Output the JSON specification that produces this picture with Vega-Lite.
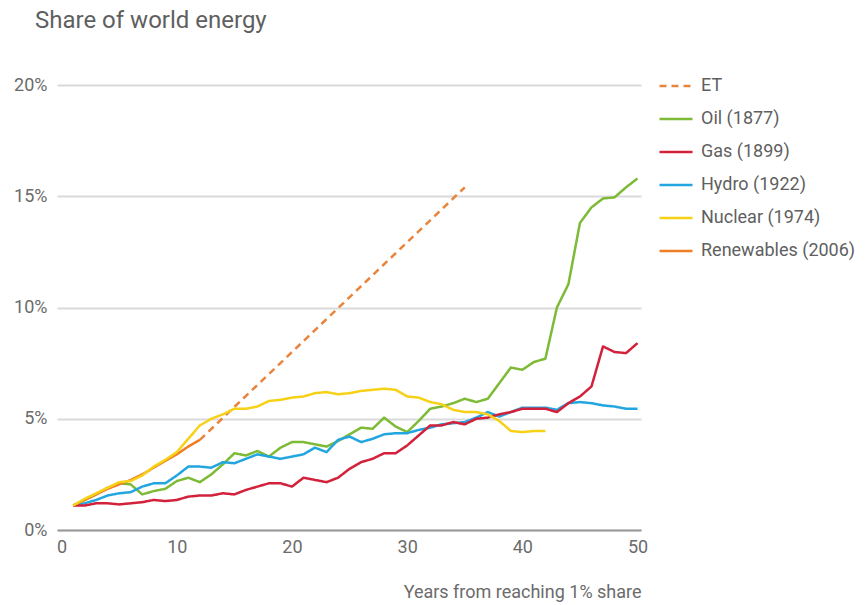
{
  "$schema": "https://vega.github.io/schema/vega-lite/v6.json",
  "width": 584,
  "height": 445,
  "autosize": {"type": "none"},
  "padding": {"left": 57, "top": 85, "right": 225, "bottom": 75},
  "background": "white",
  "title": {
    "text": "Share of world energy",
    "anchor": "start",
    "frame": "group",
    "dx": -22,
    "offset": 35,
    "fontSize": 24,
    "font": "Roboto",
    "fontWeight": "normal",
    "color": "#5f5f5f"
  },
  "config": {
    "view": {"stroke": null},
    "font": "Roboto"
  },
  "datasets": {
    "energy": [
      {"series": "ET", "year": 12, "share": 4.05},
      {"series": "ET", "year": 35, "share": 15.4},
      {"series": "Oil (1877)", "year": 1, "share": 1.1},
      {"series": "Oil (1877)", "year": 2, "share": 1.35},
      {"series": "Oil (1877)", "year": 3, "share": 1.6},
      {"series": "Oil (1877)", "year": 4, "share": 1.9},
      {"series": "Oil (1877)", "year": 5, "share": 2.1},
      {"series": "Oil (1877)", "year": 6, "share": 2.05},
      {"series": "Oil (1877)", "year": 7, "share": 1.6},
      {"series": "Oil (1877)", "year": 8, "share": 1.75},
      {"series": "Oil (1877)", "year": 9, "share": 1.85},
      {"series": "Oil (1877)", "year": 10, "share": 2.2},
      {"series": "Oil (1877)", "year": 11, "share": 2.35},
      {"series": "Oil (1877)", "year": 12, "share": 2.15},
      {"series": "Oil (1877)", "year": 13, "share": 2.5},
      {"series": "Oil (1877)", "year": 14, "share": 2.95},
      {"series": "Oil (1877)", "year": 15, "share": 3.45},
      {"series": "Oil (1877)", "year": 16, "share": 3.35},
      {"series": "Oil (1877)", "year": 17, "share": 3.55},
      {"series": "Oil (1877)", "year": 18, "share": 3.3},
      {"series": "Oil (1877)", "year": 19, "share": 3.7},
      {"series": "Oil (1877)", "year": 20, "share": 3.95},
      {"series": "Oil (1877)", "year": 21, "share": 3.95},
      {"series": "Oil (1877)", "year": 22, "share": 3.85},
      {"series": "Oil (1877)", "year": 23, "share": 3.75},
      {"series": "Oil (1877)", "year": 24, "share": 4.0},
      {"series": "Oil (1877)", "year": 25, "share": 4.3},
      {"series": "Oil (1877)", "year": 26, "share": 4.6},
      {"series": "Oil (1877)", "year": 27, "share": 4.55},
      {"series": "Oil (1877)", "year": 28, "share": 5.05},
      {"series": "Oil (1877)", "year": 29, "share": 4.65},
      {"series": "Oil (1877)", "year": 30, "share": 4.4},
      {"series": "Oil (1877)", "year": 31, "share": 4.9},
      {"series": "Oil (1877)", "year": 32, "share": 5.45},
      {"series": "Oil (1877)", "year": 33, "share": 5.55},
      {"series": "Oil (1877)", "year": 34, "share": 5.7},
      {"series": "Oil (1877)", "year": 35, "share": 5.9},
      {"series": "Oil (1877)", "year": 36, "share": 5.75},
      {"series": "Oil (1877)", "year": 37, "share": 5.9},
      {"series": "Oil (1877)", "year": 38, "share": 6.6},
      {"series": "Oil (1877)", "year": 39, "share": 7.3},
      {"series": "Oil (1877)", "year": 40, "share": 7.2},
      {"series": "Oil (1877)", "year": 41, "share": 7.55},
      {"series": "Oil (1877)", "year": 42, "share": 7.7},
      {"series": "Oil (1877)", "year": 43, "share": 10.0},
      {"series": "Oil (1877)", "year": 44, "share": 11.05},
      {"series": "Oil (1877)", "year": 45, "share": 13.8},
      {"series": "Oil (1877)", "year": 46, "share": 14.5},
      {"series": "Oil (1877)", "year": 47, "share": 14.9},
      {"series": "Oil (1877)", "year": 48, "share": 14.95},
      {"series": "Oil (1877)", "year": 49, "share": 15.4},
      {"series": "Oil (1877)", "year": 50, "share": 15.8},
      {"series": "Hydro (1922)", "year": 1, "share": 1.1},
      {"series": "Hydro (1922)", "year": 2, "share": 1.2},
      {"series": "Hydro (1922)", "year": 3, "share": 1.35},
      {"series": "Hydro (1922)", "year": 4, "share": 1.55},
      {"series": "Hydro (1922)", "year": 5, "share": 1.65},
      {"series": "Hydro (1922)", "year": 6, "share": 1.7},
      {"series": "Hydro (1922)", "year": 7, "share": 1.95},
      {"series": "Hydro (1922)", "year": 8, "share": 2.1},
      {"series": "Hydro (1922)", "year": 9, "share": 2.1},
      {"series": "Hydro (1922)", "year": 10, "share": 2.45},
      {"series": "Hydro (1922)", "year": 11, "share": 2.85},
      {"series": "Hydro (1922)", "year": 12, "share": 2.85},
      {"series": "Hydro (1922)", "year": 13, "share": 2.8},
      {"series": "Hydro (1922)", "year": 14, "share": 3.05},
      {"series": "Hydro (1922)", "year": 15, "share": 3.0},
      {"series": "Hydro (1922)", "year": 16, "share": 3.2},
      {"series": "Hydro (1922)", "year": 17, "share": 3.4},
      {"series": "Hydro (1922)", "year": 18, "share": 3.3},
      {"series": "Hydro (1922)", "year": 19, "share": 3.2},
      {"series": "Hydro (1922)", "year": 20, "share": 3.3},
      {"series": "Hydro (1922)", "year": 21, "share": 3.4},
      {"series": "Hydro (1922)", "year": 22, "share": 3.7},
      {"series": "Hydro (1922)", "year": 23, "share": 3.5},
      {"series": "Hydro (1922)", "year": 24, "share": 4.05},
      {"series": "Hydro (1922)", "year": 25, "share": 4.2},
      {"series": "Hydro (1922)", "year": 26, "share": 3.95},
      {"series": "Hydro (1922)", "year": 27, "share": 4.1},
      {"series": "Hydro (1922)", "year": 28, "share": 4.3},
      {"series": "Hydro (1922)", "year": 29, "share": 4.35},
      {"series": "Hydro (1922)", "year": 30, "share": 4.35},
      {"series": "Hydro (1922)", "year": 31, "share": 4.5},
      {"series": "Hydro (1922)", "year": 32, "share": 4.6},
      {"series": "Hydro (1922)", "year": 33, "share": 4.75},
      {"series": "Hydro (1922)", "year": 34, "share": 4.8},
      {"series": "Hydro (1922)", "year": 35, "share": 4.85},
      {"series": "Hydro (1922)", "year": 36, "share": 5.05},
      {"series": "Hydro (1922)", "year": 37, "share": 5.3},
      {"series": "Hydro (1922)", "year": 38, "share": 5.1},
      {"series": "Hydro (1922)", "year": 39, "share": 5.3},
      {"series": "Hydro (1922)", "year": 40, "share": 5.5},
      {"series": "Hydro (1922)", "year": 41, "share": 5.5},
      {"series": "Hydro (1922)", "year": 42, "share": 5.5},
      {"series": "Hydro (1922)", "year": 43, "share": 5.4},
      {"series": "Hydro (1922)", "year": 44, "share": 5.7},
      {"series": "Hydro (1922)", "year": 45, "share": 5.75},
      {"series": "Hydro (1922)", "year": 46, "share": 5.7},
      {"series": "Hydro (1922)", "year": 47, "share": 5.6},
      {"series": "Hydro (1922)", "year": 48, "share": 5.55},
      {"series": "Hydro (1922)", "year": 49, "share": 5.45},
      {"series": "Hydro (1922)", "year": 50, "share": 5.45},
      {"series": "Gas (1899)", "year": 1, "share": 1.1},
      {"series": "Gas (1899)", "year": 2, "share": 1.1},
      {"series": "Gas (1899)", "year": 3, "share": 1.2},
      {"series": "Gas (1899)", "year": 4, "share": 1.2},
      {"series": "Gas (1899)", "year": 5, "share": 1.15},
      {"series": "Gas (1899)", "year": 6, "share": 1.2},
      {"series": "Gas (1899)", "year": 7, "share": 1.25},
      {"series": "Gas (1899)", "year": 8, "share": 1.35},
      {"series": "Gas (1899)", "year": 9, "share": 1.3},
      {"series": "Gas (1899)", "year": 10, "share": 1.35},
      {"series": "Gas (1899)", "year": 11, "share": 1.5},
      {"series": "Gas (1899)", "year": 12, "share": 1.55},
      {"series": "Gas (1899)", "year": 13, "share": 1.55},
      {"series": "Gas (1899)", "year": 14, "share": 1.65},
      {"series": "Gas (1899)", "year": 15, "share": 1.6},
      {"series": "Gas (1899)", "year": 16, "share": 1.8},
      {"series": "Gas (1899)", "year": 17, "share": 1.95},
      {"series": "Gas (1899)", "year": 18, "share": 2.1},
      {"series": "Gas (1899)", "year": 19, "share": 2.1},
      {"series": "Gas (1899)", "year": 20, "share": 1.95},
      {"series": "Gas (1899)", "year": 21, "share": 2.35},
      {"series": "Gas (1899)", "year": 22, "share": 2.25},
      {"series": "Gas (1899)", "year": 23, "share": 2.15},
      {"series": "Gas (1899)", "year": 24, "share": 2.35},
      {"series": "Gas (1899)", "year": 25, "share": 2.75},
      {"series": "Gas (1899)", "year": 26, "share": 3.05},
      {"series": "Gas (1899)", "year": 27, "share": 3.2},
      {"series": "Gas (1899)", "year": 28, "share": 3.45},
      {"series": "Gas (1899)", "year": 29, "share": 3.45},
      {"series": "Gas (1899)", "year": 30, "share": 3.8},
      {"series": "Gas (1899)", "year": 31, "share": 4.25},
      {"series": "Gas (1899)", "year": 32, "share": 4.7},
      {"series": "Gas (1899)", "year": 33, "share": 4.7},
      {"series": "Gas (1899)", "year": 34, "share": 4.85},
      {"series": "Gas (1899)", "year": 35, "share": 4.75},
      {"series": "Gas (1899)", "year": 36, "share": 5.0},
      {"series": "Gas (1899)", "year": 37, "share": 5.05},
      {"series": "Gas (1899)", "year": 38, "share": 5.2},
      {"series": "Gas (1899)", "year": 39, "share": 5.3},
      {"series": "Gas (1899)", "year": 40, "share": 5.45},
      {"series": "Gas (1899)", "year": 41, "share": 5.45},
      {"series": "Gas (1899)", "year": 42, "share": 5.45},
      {"series": "Gas (1899)", "year": 43, "share": 5.3},
      {"series": "Gas (1899)", "year": 44, "share": 5.7},
      {"series": "Gas (1899)", "year": 45, "share": 6.0},
      {"series": "Gas (1899)", "year": 46, "share": 6.45},
      {"series": "Gas (1899)", "year": 47, "share": 8.25},
      {"series": "Gas (1899)", "year": 48, "share": 8.0},
      {"series": "Gas (1899)", "year": 49, "share": 7.95},
      {"series": "Gas (1899)", "year": 50, "share": 8.4},
      {"series": "Renewables (2006)", "year": 1, "share": 1.1},
      {"series": "Renewables (2006)", "year": 2, "share": 1.35},
      {"series": "Renewables (2006)", "year": 3, "share": 1.6},
      {"series": "Renewables (2006)", "year": 4, "share": 1.85},
      {"series": "Renewables (2006)", "year": 5, "share": 2.05},
      {"series": "Renewables (2006)", "year": 6, "share": 2.25},
      {"series": "Renewables (2006)", "year": 7, "share": 2.5},
      {"series": "Renewables (2006)", "year": 8, "share": 2.8},
      {"series": "Renewables (2006)", "year": 9, "share": 3.1},
      {"series": "Renewables (2006)", "year": 10, "share": 3.4},
      {"series": "Renewables (2006)", "year": 11, "share": 3.75},
      {"series": "Renewables (2006)", "year": 12, "share": 4.05},
      {"series": "Nuclear (1974)", "year": 1, "share": 1.1},
      {"series": "Nuclear (1974)", "year": 2, "share": 1.4},
      {"series": "Nuclear (1974)", "year": 3, "share": 1.65},
      {"series": "Nuclear (1974)", "year": 4, "share": 1.9},
      {"series": "Nuclear (1974)", "year": 5, "share": 2.15},
      {"series": "Nuclear (1974)", "year": 6, "share": 2.2},
      {"series": "Nuclear (1974)", "year": 7, "share": 2.45},
      {"series": "Nuclear (1974)", "year": 8, "share": 2.85},
      {"series": "Nuclear (1974)", "year": 9, "share": 3.15},
      {"series": "Nuclear (1974)", "year": 10, "share": 3.5},
      {"series": "Nuclear (1974)", "year": 11, "share": 4.1},
      {"series": "Nuclear (1974)", "year": 12, "share": 4.7},
      {"series": "Nuclear (1974)", "year": 13, "share": 5.0},
      {"series": "Nuclear (1974)", "year": 14, "share": 5.2},
      {"series": "Nuclear (1974)", "year": 15, "share": 5.45},
      {"series": "Nuclear (1974)", "year": 16, "share": 5.45},
      {"series": "Nuclear (1974)", "year": 17, "share": 5.55},
      {"series": "Nuclear (1974)", "year": 18, "share": 5.8},
      {"series": "Nuclear (1974)", "year": 19, "share": 5.85},
      {"series": "Nuclear (1974)", "year": 20, "share": 5.95},
      {"series": "Nuclear (1974)", "year": 21, "share": 6.0},
      {"series": "Nuclear (1974)", "year": 22, "share": 6.15},
      {"series": "Nuclear (1974)", "year": 23, "share": 6.2},
      {"series": "Nuclear (1974)", "year": 24, "share": 6.1},
      {"series": "Nuclear (1974)", "year": 25, "share": 6.15},
      {"series": "Nuclear (1974)", "year": 26, "share": 6.25},
      {"series": "Nuclear (1974)", "year": 27, "share": 6.3},
      {"series": "Nuclear (1974)", "year": 28, "share": 6.35},
      {"series": "Nuclear (1974)", "year": 29, "share": 6.3},
      {"series": "Nuclear (1974)", "year": 30, "share": 6.0},
      {"series": "Nuclear (1974)", "year": 31, "share": 5.95},
      {"series": "Nuclear (1974)", "year": 32, "share": 5.75},
      {"series": "Nuclear (1974)", "year": 33, "share": 5.65},
      {"series": "Nuclear (1974)", "year": 34, "share": 5.4},
      {"series": "Nuclear (1974)", "year": 35, "share": 5.3},
      {"series": "Nuclear (1974)", "year": 36, "share": 5.3},
      {"series": "Nuclear (1974)", "year": 37, "share": 5.2},
      {"series": "Nuclear (1974)", "year": 38, "share": 4.9},
      {"series": "Nuclear (1974)", "year": 39, "share": 4.45},
      {"series": "Nuclear (1974)", "year": 40, "share": 4.4},
      {"series": "Nuclear (1974)", "year": 41, "share": 4.45},
      {"series": "Nuclear (1974)", "year": 42, "share": 4.45}
    ]
  },
  "data": {"name": "energy"},
  "mark": {"type": "line", "strokeWidth": 2.5, "strokeCap": "butt", "strokeJoin": "round"},
  "encoding": {
    "x": {
      "field": "year",
      "type": "quantitative",
      "scale": {"domain": [-0.4, 50.3], "nice": false, "zero": false},
      "axis": {
        "values": [0, 10, 20, 30, 40, 50],
        "grid": false,
        "ticks": false,
        "domain": true,
        "domainColor": "#9a9a9a",
        "domainWidth": 2,
        "labelFontSize": 18,
        "labelColor": "#6b6b6b",
        "labelPadding": 8,
        "labelFont": "Roboto",
        "title": "Years from reaching 1% share",
        "titleFont": "Roboto",
        "titleFontSize": 18,
        "titleFontWeight": "normal",
        "titleColor": "#6b6b6b",
        "titleAnchor": "end",
        "titleAlign": "right",
        "titlePadding": 27
      }
    },
    "y": {
      "field": "share",
      "type": "quantitative",
      "scale": {"domain": [0, 20], "nice": false},
      "axis": {
        "values": [0, 5, 10, 15, 20],
        "labelExpr": "datum.value + '%'",
        "grid": true,
        "gridColor": "#dadada",
        "gridWidth": 2,
        "ticks": false,
        "domain": false,
        "labelFontSize": 18,
        "labelColor": "#6b6b6b",
        "labelPadding": 10,
        "labelFont": "Roboto",
        "title": null
      }
    },
    "color": {
      "field": "series",
      "type": "nominal",
      "scale": {
        "domain": ["ET", "Oil (1877)", "Gas (1899)", "Hydro (1922)", "Nuclear (1974)", "Renewables (2006)"],
        "range": ["#E8843C", "#7DBA35", "#D3203B", "#23A5E0", "#F7D117", "#EE7E25"]
      },
      "legend": {
        "title": null,
        "orient": "none",
        "legendX": 601,
        "legendY": -17,
        "padding": 0,
        "symbolType": "stroke",
        "symbolSize": 1089,
        "symbolStrokeWidth": 2.5,
        "rowPadding": 6,
        "labelOffset": 7,
        "labelFontSize": 18,
        "labelFont": "Roboto",
        "labelColor": "#5f5f5f",
        "labelLimit": 300
      }
    },
    "strokeDash": {
      "field": "series",
      "type": "nominal",
      "scale": {
        "domain": ["ET", "Oil (1877)", "Gas (1899)", "Hydro (1922)", "Nuclear (1974)", "Renewables (2006)"],
        "range": [[7, 5], [1, 0], [1, 0], [1, 0], [1, 0], [1, 0]]
      },
      "legend": {
        "title": null,
        "orient": "none",
        "legendX": 601,
        "legendY": -17,
        "padding": 0,
        "symbolType": "stroke",
        "symbolSize": 1089,
        "symbolStrokeWidth": 2.5,
        "rowPadding": 6,
        "labelOffset": 7,
        "labelFontSize": 18,
        "labelFont": "Roboto",
        "labelColor": "#5f5f5f",
        "labelLimit": 300
      }
    }
  }
}
